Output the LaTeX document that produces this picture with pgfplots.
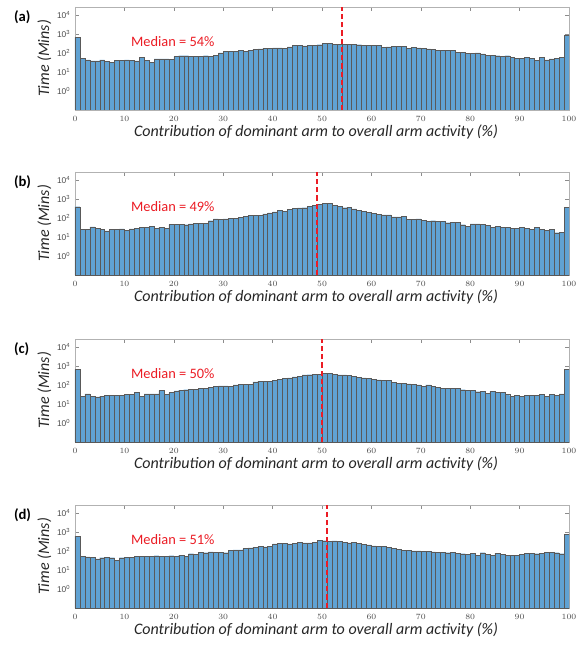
\documentclass[border=0pt]{standalone}
\usepackage{pgfplots}
\usepackage{pgfplotstable}
\pgfplotsset{compat=1.18}
\usepackage{fontspec}
\setmainfont{Carlito}
\newfontfamily\ticksf{Liberation Sans}
\definecolor{barblue}{RGB}{96,162,211}
\definecolor{medred}{RGB}{235,28,36}

\pgfplotstableread[row sep=\\]{
y\\ 680\\ 53\\ 44\\ 39\\ 39\\ 44\\ 36\\ 33\\ 40\\ 40\\
44\\ 42\\ 39\\ 58\\ 40\\ 33\\ 49\\ 49\\ 49\\ 47\\
65\\ 73\\ 73\\ 65\\ 67\\ 70\\ 73\\ 70\\ 76\\ 104\\
127\\ 127\\ 127\\ 143\\ 127\\ 143\\ 160\\ 167\\ 174\\ 180\\
188\\ 188\\ 180\\ 211\\ 247\\ 247\\ 238\\ 257\\ 267\\ 278\\
326\\ 326\\ 300\\ 300\\ 300\\ 300\\ 300\\ 278\\ 257\\ 257\\
257\\ 247\\ 195\\ 211\\ 220\\ 220\\ 228\\ 180\\ 195\\ 188\\
174\\ 167\\ 154\\ 143\\ 143\\ 143\\ 143\\ 112\\ 108\\ 96\\
96\\ 104\\ 92\\ 79\\ 76\\ 73\\ 70\\ 73\\ 58\\ 53\\
55\\ 58\\ 53\\ 40\\ 60\\ 44\\ 49\\ 53\\ 62\\ 850\\
}\dataA

\pgfplotstableread[row sep=\\]{
y\\ 400\\ 26\\ 26\\ 35\\ 30\\ 26\\ 21\\ 25\\ 26\\ 27\\
22\\ 27\\ 30\\ 32\\ 32\\ 38\\ 30\\ 33\\ 28\\ 47\\
47\\ 47\\ 45\\ 49\\ 53\\ 51\\ 55\\ 73\\ 92\\ 88\\
92\\ 100\\ 100\\ 113\\ 120\\ 137\\ 143\\ 137\\ 168\\ 188\\
212\\ 250\\ 230\\ 292\\ 316\\ 342\\ 355\\ 418\\ 490\\ 530\\
620\\ 600\\ 490\\ 418\\ 355\\ 370\\ 304\\ 250\\ 220\\ 196\\
180\\ 160\\ 150\\ 150\\ 117\\ 117\\ 127\\ 88\\ 88\\ 92\\
76\\ 70\\ 73\\ 67\\ 70\\ 57\\ 60\\ 60\\ 45\\ 37\\
49\\ 49\\ 47\\ 42\\ 32\\ 37\\ 33\\ 32\\ 30\\ 29\\
33\\ 29\\ 25\\ 32\\ 26\\ 23\\ 25\\ 17\\ 18\\ 385\\
}\dataB

\pgfplotstableread[row sep=\\]{
y\\ 670\\ 26\\ 34\\ 26\\ 24\\ 26\\ 30\\ 28\\ 30\\ 28\\
32\\ 32\\ 42\\ 26\\ 35\\ 35\\ 35\\ 51\\ 33\\ 40\\
49\\ 55\\ 57\\ 62\\ 62\\ 67\\ 70\\ 76\\ 85\\ 92\\
92\\ 85\\ 104\\ 113\\ 108\\ 108\\ 150\\ 160\\ 160\\ 160\\
174\\ 196\\ 220\\ 240\\ 270\\ 292\\ 342\\ 355\\ 385\\ 385\\
433\\ 433\\ 370\\ 342\\ 342\\ 330\\ 280\\ 250\\ 240\\ 220\\
196\\ 188\\ 174\\ 174\\ 137\\ 127\\ 127\\ 117\\ 113\\ 104\\
85\\ 104\\ 88\\ 76\\ 67\\ 67\\ 67\\ 65\\ 57\\ 55\\
51\\ 45\\ 47\\ 38\\ 47\\ 42\\ 42\\ 33\\ 26\\ 28\\
25\\ 30\\ 30\\ 30\\ 33\\ 25\\ 33\\ 30\\ 35\\ 670\\
}\dataC

\pgfplotstableread[row sep=\\]{
y\\ 620\\ 51\\ 49\\ 47\\ 39\\ 45\\ 47\\ 45\\ 34\\ 45\\
47\\ 47\\ 53\\ 51\\ 55\\ 53\\ 57\\ 55\\ 55\\ 57\\
51\\ 62\\ 55\\ 73\\ 67\\ 89\\ 82\\ 92\\ 89\\ 89\\
82\\ 113\\ 117\\ 117\\ 137\\ 150\\ 160\\ 174\\ 168\\ 180\\
240\\ 250\\ 250\\ 240\\ 250\\ 280\\ 270\\ 270\\ 280\\ 370\\
355\\ 330\\ 342\\ 316\\ 292\\ 270\\ 280\\ 260\\ 230\\ 212\\
188\\ 180\\ 174\\ 160\\ 143\\ 122\\ 113\\ 113\\ 104\\ 104\\
100\\ 96\\ 92\\ 85\\ 89\\ 82\\ 85\\ 79\\ 73\\ 70\\
76\\ 60\\ 82\\ 67\\ 62\\ 79\\ 70\\ 60\\ 62\\ 62\\
70\\ 76\\ 79\\ 73\\ 76\\ 89\\ 85\\ 82\\ 73\\ 760\\
}\dataD

\pgfplotsset{
  mypanel/.style={
    scale only axis, width=370.5pt, height=77.25pt,
    anchor=north west,
    xmin=0, xmax=100, ymin=0.1, ymax=27000,
    log origin y=infty,
    xtick={0,10,...,100},
    ytick={1,10,100,1000,10000},
    yticklabels={10\textsuperscript{0},10\textsuperscript{1},10\textsuperscript{2},10\textsuperscript{3},10\textsuperscript{4}},
    minor tick length=0pt,
    tick align=inside, major tick length=3pt,
    axis line style={black!30},
    tick style={black!45, line width=0.4pt},
    ticklabel style={font=\ticksf\fontsize{6.3}{7}\selectfont, text=black!70},
    xticklabel style={yshift=-1pt},
    xlabel={\itshape Contribution of dominant arm to overall arm activity (\%)},
    ylabel={\itshape Time (Mins)},
    label style={font=\fontsize{12}{14}\selectfont, text=black!85},
    xlabel style={at={(axis description cs:0.488,-0.215)}, anchor=center},
    ylabel style={at={(axis description cs:-0.062,0.5)}, anchor=center},
    clip mode=individual,
  },
  mybars/.style={ybar, bar shift=0pt, bar width=1, fill=barblue, draw=black!65, line width=0.25pt},
  mymed/.style={medred, line width=1.4pt, dash pattern=on 4pt off 2.2pt},
}
\tikzset{
  medtxt/.style={text=medred, font=\fontsize{10.8}{12}\selectfont, anchor=west},
  plab/.style={font=\bfseries\fontsize{11}{13}\selectfont, anchor=west},
}

\begin{document}
\begin{tikzpicture}
% (a)
\begin{semilogyaxis}[mypanel, at={(0pt,0pt)}]
\addplot[mybars] table[x expr=\coordindex+0.5, y=y]{\dataA};
\addplot[mymed] coordinates {(54,0.1) (54,27000)};
\node[medtxt] at (axis cs:10.4,390) {Median = 54\%};
\node[plab] at (rel axis cs:-0.133,0.9) {(a)};
\end{semilogyaxis}
% (b)
\begin{semilogyaxis}[mypanel, at={(0pt,-123.75pt)}]
\addplot[mybars] table[x expr=\coordindex+0.5, y=y]{\dataB};
\addplot[mymed] coordinates {(49,0.1) (49,27000)};
\node[medtxt] at (axis cs:10.4,390) {Median = 49\%};
\node[plab] at (rel axis cs:-0.133,0.9) {(b)};
\end{semilogyaxis}
% (c)
\begin{semilogyaxis}[mypanel, at={(0pt,-249pt)}]
\addplot[mybars] table[x expr=\coordindex+0.5, y=y]{\dataC};
\addplot[mymed] coordinates {(50,0.1) (50,27000)};
\node[medtxt] at (axis cs:10.4,390) {Median = 50\%};
\node[plab] at (rel axis cs:-0.133,0.9) {(c)};
\end{semilogyaxis}
% (d)
\begin{semilogyaxis}[mypanel, at={(0pt,-373.5pt)}]
\addplot[mybars] table[x expr=\coordindex+0.5, y=y]{\dataD};
\addplot[mymed] coordinates {(51,0.1) (51,27000)};
\node[medtxt] at (axis cs:10.4,390) {Median = 51\%};
\node[plab] at (rel axis cs:-0.133,0.9) {(d)};
\end{semilogyaxis}
\pgfresetboundingbox
\path (-56.25pt,5.25pt) rectangle (376.5pt,-478.5pt);
\end{tikzpicture}
\end{document}
